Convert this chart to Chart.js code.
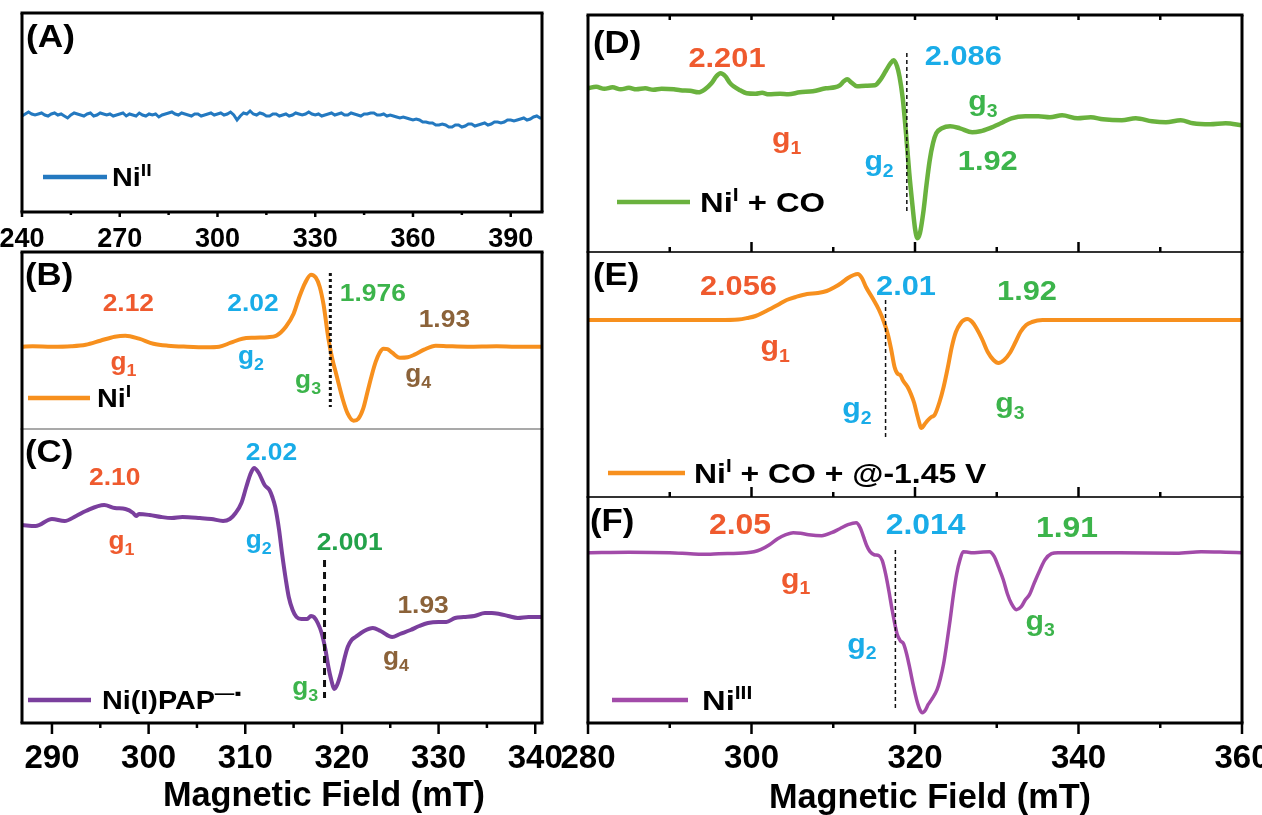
<!DOCTYPE html>
<html>
<head>
<meta charset="utf-8">
<script src="https://cdn.jsdelivr.net/npm/chart.js@4.4.0/dist/chart.umd.min.js"></script>
<style>
  body { margin: 0; background: #fff; }
  #wrap { position: relative; width: 1262px; height: 815px; }
  #wrap canvas { position: absolute; left: 0; top: 0; }
</style>
</head>
<body>
<div id="wrap"></div>
<script>
// EPR spectra, field in mT, intensity in arbitrary units (baseline = 0)

// (A) Ni(II) - noisy, sampled every 1 mT
const fieldA = [240,241,242,243,244,245,246,247,248,249,250,251,252,253,254,255,256,257,258,259,
  260,261,262,263,264,265,266,267,268,269,270,271,272,273,274,275,276,277,278,279,
  280,281,282,283,284,285,286,287,288,289,290,291,292,293,294,295,296,297,298,299,
  300,301,302,303,304,305,306,307,308,309,310,311,312,313,314,315,316,317,318,319,
  320,321,322,323,324,325,326,327,328,329,330,331,332,333,334,335,336,337,338,339,
  340,341,342,343,344,345,346,347,348,349,350,351,352,353,354,355,356,357,358,359,
  360,361,362,363,364,365,366,367,368,369,370,371,372,373,374,375,376,377,378,379,
  380,381,382,383,384,385,386,387,388,389,390,391,392,393,394,395,396,397,398,399,400];
const signalA = [-1,1,3,1,0,1,2,0,-1,1,2,0,1,-1,-3,0,2,1,0,-1,
  1,2,-1,0,2,1,0,1,-1,0,1,2,-1,1,0,-1,2,0,-1,1,
  0,1,-2,0,1,2,3,1,0,2,1,0,-1,1,1,-1,0,1,2,0,
  1,2,0,1,3,0,-5,-1,2,1,4,1,0,2,1,-1,-1,1,1,-1,
  0,1,-1,0,2,1,0,1,3,1,0,1,-1,0,1,2,0,1,2,0,
  0,2,1,0,-1,1,1,2,2,0,0,1,-1,0,-1,-2,-3,-2,-3,-4,
  -5,-4,-5,-7,-7,-8,-8,-10,-10,-9,-10,-12,-12,-10,-10,-12,-11,-9,-9,-11,
  -10,-9,-8,-10,-9,-7,-7,-8,-7,-5,-5,-6,-5,-4,-3,-5,-4,-2,-1,-3,-3];

// (B) Ni(I)
const fieldB = [286.9,288,290,292,293.5,295,296.5,297.6,299,300.5,302,304,306,307.3,308.5,309.7,311,312.3,313.2,314.2,
  315,315.6,316.2,316.8,317.3,317.7,318.1,318.6,319,319.4,320.1,320.6,321.2,321.7,322.2,322.7,323.1,323.5,323.9,324.3,
  324.7,325.2,326,326.8,327.5,328.5,329.7,331,333,336,338,340.7];
const signalB = [0,0.5,0,0.5,2,6,10,11,8,3,1,0,-0.5,0,4,8,9,9.5,11,20,
  33,50,64,72,69,60,42,8,-12,-27,-53,-67,-74,-72,-62,-43,-28,-15,-6,-2,
  -2.5,-6,-11,-10.5,-8,-3,1,0.5,0,0.5,0,0];

// (C) Ni(I)PAP radical anion
const fieldC = [286.9,288.3,290,291.3,292.5,293.5,295.4,296.5,297.6,298.4,298.7,299,300.1,301.3,302.4,303.5,305.3,306.5,307.7,308.4,
  309,309.6,310.1,310.5,310.9,311.4,312,312.5,312.8,313.1,313.5,313.8,314.2,314.5,314.9,315.3,315.8,316.4,316.8,317.1,
  317.5,317.9,318.3,318.6,318.9,319.2,319.5,319.9,320.3,320.6,321,321.4,322.3,323.2,324,325.2,326,327.1,328,328.9,
  330,330.8,331.7,332.6,333.7,334.8,335.5,336.3,337.2,338.2,339.3,340.7];
const signalC = [0,-1,6,4,9,14,20,17,16,12,9,11,10,8,7,8,7,6,4,6,
  12,22,38,50,57,52,40,35,28,18,-5,-28,-55,-72,-85,-92,-94,-94,-91,-92,
  -98,-108,-125,-142,-155,-164,-160,-148,-132,-122,-115,-112,-106,-103,-106,-112,-109,-105,-101,-98,
  -97,-97,-93,-92,-91,-88,-88,-89,-91,-93,-92,-92];

// (D) Ni(I) + CO
const fieldD = [280,281,282,283,284,285,285.9,287,288,289,290.5,291.3,292.5,293.5,294.3,295.1,295.7,296.2,296.8,297.3,
  297.8,298.6,299.4,300.5,301.3,302.1,303.5,304.5,305.9,307.5,309.1,310.2,310.8,311.3,311.7,312.2,312.9,314,315.1,315.8,
  316.4,317,317.4,317.8,318.1,318.5,318.9,319.3,319.7,320,320.3,320.6,321,321.4,321.8,322.2,322.6,323.3,324.3,325.5,
  327,328,329.1,330.5,331.8,333.5,335.1,336.5,338,339.9,341.5,343,345.3,347,349,350.7,352.5,354,356.1,358,360];
const signalD = [0,1.5,-0.5,1,-1,0.5,-1,0,-1.5,-0.5,-1,-2,-2.5,-4,-1,5,12,15,12,6,
  2,-2,-5,-5.5,-4.5,-6,-5.5,-6,-4,-3,0,1,3,7,9,6,2,2.5,3,9,
  17,25,28,22,12,-10,-45,-85,-118,-140,-150,-145,-125,-97,-72,-55,-45,-40,-38,-40,
  -44,-43,-40,-35,-30,-28,-28,-29,-27,-30,-29,-31,-32,-30,-33,-34,-32,-35,-36,-35,-37];

// (E) Ni(I) + CO + @-1.45 V
const fieldE = [280,290,296,298.4,299.5,300.5,301.8,303.2,304.3,305.4,306.8,308.1,309.2,310.2,311,311.8,312.5,313,313.5,314,
  314.8,315.6,316.2,316.7,317.1,317.5,317.9,318.2,318.5,319.1,319.5,319.9,320.3,320.8,321.2,321.6,322,322.4,323,323.5,
  324,324.5,325,325.6,326,326.4,327,327.5,328.2,328.9,329.6,330.2,330.9,331.6,332.3,332.9,333.6,334.3,335.6,340,
  350,360];
const signalE = [0,0,0,0.5,2,4,9,15,20,23,26,27,29,33,37,42,45,46,42,33,
  22,10,-2,-15,-30,-47,-54,-55,-60,-67,-74,-83,-96,-108,-104,-100,-97,-95,-82,-67,
  -48,-27,-12,-3,0,1,-2,-8,-19,-32,-40,-43,-40,-33,-22,-12,-5,-2,0,0,
  0,0];

// (F) Ni(III)
const fieldF = [280,285,290,292.5,294,296,299.4,300.3,301.1,302.2,303.2,304.2,305.1,306,307,308.6,309.8,310.8,311.8,312.8,
  313.3,313.7,314.1,314.5,315,315.6,316,316.4,316.8,317.2,317.8,318.2,318.6,319,319.4,319.8,320.2,320.6,320.9,321.3,
  321.6,322.1,322.7,323.1,323.5,323.9,324.3,324.7,325.1,325.5,325.9,326.5,327,328,329.1,329.7,330.2,330.8,331.3,331.8,
  332.4,333,333.5,334,334.6,335.3,335.9,336.7,337.5,345,352,355,358,360];
const signalF = [0,0.5,0,-1,-1.5,-1,0,1,3,8,14,18,20,19.5,18,17,20,24,28,30,
  25,16,7,1,-2,-3,-8,-21,-38,-57,-81,-88,-91,-102,-117,-133,-147,-157,-160,-157,
  -152,-146,-137,-126,-111,-90,-67,-42,-21,-7,1,0.5,0,0.5,1,-4,-14,-27,-41,-51,
  -57,-54,-47,-42,-30,-17,-7,-1,0,0,-0.5,1,0.5,0];

// axis ticks
const majorA = [240, 270, 300, 330, 360, 390];
const minorA = [255, 285, 315, 345, 375];
const majorC = [290, 300, 310, 320, 330, 340];
const minorC = [295, 305, 315, 325, 335];
const majorR = [280, 300, 320, 340, 360];
const minorR = [290, 310, 330, 350];
const innerR = [290, 300, 310, 320, 330, 340, 350];

const FONT = '"Liberation Sans", Arial, Helvetica, sans-serif';
const RED = '#ef5a2e', BLUE = '#19ace8', GREEN = '#3cb44b', BROWN = '#8b6239';
const W = 1262, H = 815;

// text made of runs: [text, ''|'sub'|'sup']
function rich(ctx, parts, x, y, size, color, align, sx) {
  sx = sx || 1;
  const small = Math.round(size * 0.66);
  const fontOf = s => 'bold ' + s + 'px ' + FONT;
  let w = 0;
  const ws = parts.map(([t, m]) => {
    ctx.font = fontOf(m ? small : size);
    const a = ctx.measureText(t).width;
    w += a;
    return a;
  });
  ctx.save();
  ctx.translate(x, y);
  ctx.scale(sx, 1);
  let cx = align === 'center' ? -w / 2 : 0;
  ctx.fillStyle = color;
  ctx.textBaseline = 'alphabetic';
  ctx.textAlign = 'left';
  parts.forEach(([t, m], i) => {
    ctx.font = fontOf(m ? small : size);
    const dy = m === 'sub' ? size * 0.24 : m === 'sup' ? -size * 0.4 : 0;
    ctx.fillText(t, cx, dy);
    cx += ws[i];
  });
  ctx.restore();
}

const num = (t, x, y, c, size, sx) => ({ t: [[t, '']], x, y, c, size, sx });
const gl = (n, x, y, c, size, sx) => ({ t: [['g', ''], [n, 'sub']], x, y, c, size, sx });

function line(ctx, x0, y0, x1, y1, w, color) {
  ctx.beginPath();
  ctx.lineWidth = w;
  ctx.strokeStyle = color;
  ctx.moveTo(x0, y0);
  ctx.lineTo(x1, y1);
  ctx.stroke();
}

function decor(p) {
  return {
    id: 'decor' + p.id,
    afterDatasetsDraw(chart) {
      const ctx = chart.ctx, a = chart.chartArea;
      const xs = chart.scales.x, ys = chart.scales.y;
      ctx.save();
      ctx.lineCap = 'butt';

      if (p.marker) {
        const m = p.marker, px = xs.getPixelForValue(m.x);
        ctx.setLineDash(m.dash);
        line(ctx, px, ys.getPixelForValue(m.y0), px, ys.getPixelForValue(m.y1), m.w, '#111');
        ctx.setLineDash([]);
      }

      (p.labels || []).forEach(l =>
        rich(ctx, l.t, xs.getPixelForValue(l.x), ys.getPixelForValue(l.y), l.size, l.c, 'center', l.sx));

      const lg = p.legend;
      line(ctx, lg.x0, lg.y, lg.x1, lg.y, 4.5, p.color);
      rich(ctx, lg.parts, lg.tx, lg.base, lg.size, '#000', 'left', lg.sx);

      rich(ctx, [[p.letter.t, '']], p.letter.x, p.letter.base, p.letter.size, '#000', 'left', p.letter.sx);

      const b = p.border;
      if (b.top) line(ctx, a.left - 1.5, a.top, a.right + 1.5, a.top, b.top[0], b.top[1]);
      if (b.bottom) line(ctx, a.left - 1.5, a.bottom, a.right + 1.5, a.bottom, b.bottom[0], b.bottom[1]);
      if (b.left) line(ctx, a.left, a.top, a.left, a.bottom, b.left[0], b.left[1]);
      if (b.right) line(ctx, a.right, a.top, a.right, a.bottom, b.right[0], b.right[1]);

      (p.ticks || []).forEach(t => {
        const y0 = t.side === 'top' ? a.top : a.bottom;
        const sgn = (t.side === 'bottom') === (t.dir === 'out') ? 1 : -1;
        t.at.forEach(v => {
          const px = xs.getPixelForValue(v);
          line(ctx, px, y0, px, y0 + sgn * t.len, 2.5, '#000');
          if (t.label) rich(ctx, [[String(v), '']], px, t.label.base, t.label.size, '#000', 'center', t.label.sx);
        });
      });

      if (p.title) rich(ctx, [[p.title.t, '']], p.title.x, p.title.base, p.title.size, '#000', 'center', p.title.sx);
      ctx.restore();
    }
  };
}

const K = [3, '#000'];
const panels = [
  {
    id: 'A', box: [22, 13, 542, 212], xr: [240, 399.6], yr: [-97, 102],
    x: fieldA, y: signalA, color: '#2479c0', lw: 3, tension: 0,
    border: { top: K, bottom: K, left: K, right: K },
    ticks: [
      { side: 'bottom', dir: 'out', at: majorA, len: 5, label: { size: 27, base: 247 } },
      { side: 'bottom', dir: 'out', at: minorA, len: 3 }
    ],
    letter: { t: '(A)', x: 26, base: 47, size: 32, sx: 1.1 },
    legend: { x0: 43, x1: 107, y: 177, tx: 112, base: 186, size: 25, sx: 1.15, parts: [['Ni', ''], ['II', 'sup']] }
  },
  {
    id: 'B', box: [22, 252, 542, 429], xr: [286.9, 340.7], yr: [-82.3, 94.7],
    x: fieldB, y: signalB, color: '#f7901e', lw: 4,
    border: { top: K, bottom: [1.2, '#555'], left: K, right: K },
    marker: { x: 318.8, y0: 73.7, y1: -60.3, w: 3, dash: [3, 3] },
    labels: [
      num('2.12', 297.9, 36, RED, 24, 1.1), gl('1', 297.4, -23, RED, 25, 1.05),
      num('2.02', 310.8, 36, BLUE, 24, 1.1), gl('2', 310.6, -17, BLUE, 25, 1.05),
      num('1.976', 323.2, 46, GREEN, 24, 1.1), gl('3', 316.5, -41, GREEN, 25, 1.05),
      num('1.93', 330.6, 20, BROWN, 24, 1.1), gl('4', 327.9, -35, BROWN, 25, 1.05)
    ],
    letter: { t: '(B)', x: 25, base: 285, size: 31, sx: 1.12 },
    legend: { x0: 28, x1: 90, y: 398, tx: 97, base: 407, size: 25, sx: 1.15, parts: [['Ni', ''], ['I', 'sup']] }
  },
  {
    id: 'C', box: [22, 429, 542, 723], xr: [286.9, 340.7], yr: [-198, 96],
    x: fieldC, y: signalC, color: '#7a3f9d', lw: 4,
    border: { bottom: K, left: K, right: K },
    marker: { x: 318.2, y0: -35, y1: -173, w: 3, dash: [7, 5] },
    labels: [
      num('2.10', 296.5, 40, RED, 24, 1.1), gl('1', 297.2, -24, RED, 25, 1.05),
      num('2.02', 312.7, 65, BLUE, 24, 1.1), gl('2', 311.4, -23, BLUE, 25, 1.05),
      num('2.001', 320.8, -25, '#23a24a', 24, 1.1), gl('3', 316.2, -170, GREEN, 25, 1.05),
      num('1.93', 328.4, -88, BROWN, 24, 1.1), gl('4', 325.6, -140, BROWN, 25, 1.05)
    ],
    ticks: [
      { side: 'bottom', dir: 'out', at: majorC, len: 11, label: { size: 33, base: 768 } },
      { side: 'bottom', dir: 'out', at: minorC, len: 5 }
    ],
    title: { t: 'Magnetic Field (mT)', x: 324, base: 806, size: 35, sx: 0.98 },
    letter: { t: '(C)', x: 25, base: 462, size: 31, sx: 1.12 },
    legend: { x0: 28, x1: 91, y: 700, tx: 102, base: 709, size: 25, sx: 1.15, parts: [['Ni(I)PAP', ''], ['—▪', 'sup']] }
  },
  {
    id: 'D', box: [588, 15, 1242, 252], xr: [280, 360], yr: [-163.7, 73.3],
    x: fieldD, y: signalD, color: '#6ab23e', lw: 4.5,
    border: { top: K, bottom: [2, '#333'], left: K, right: K },
    marker: { x: 319, y0: 35.3, y1: -124.7, w: 1.5, dash: [4, 3] },
    labels: [
      num('2.201', 297, 21, RED, 28, 1.1), gl('1', 304.3, -59, RED, 28, 1.08),
      num('2.086', 325.9, 23, BLUE, 28, 1.1), gl('2', 315.6, -82, BLUE, 28, 1.08),
      gl('3', 328.3, -22, GREEN, 28, 1.08), num('1.92', 328.9, -82, GREEN, 28, 1.1)
    ],
    ticks: [
      { side: 'top', dir: 'in', at: innerR, len: 5 },
      { side: 'bottom', dir: 'in', at: [300, 320, 340], len: 10 },
      { side: 'bottom', dir: 'in', at: minorR, len: 5 }
    ],
    letter: { t: '(D)', x: 593, base: 53, size: 31, sx: 1.12 },
    legend: { x0: 617, x1: 690, y: 202, tx: 700, base: 212, size: 28, sx: 1.17, parts: [['Ni', ''], ['I', 'sup'], [' + CO', '']] }
  },
  {
    id: 'E', box: [588, 252, 1242, 497], xr: [280, 360], yr: [-177, 68],
    x: fieldE, y: signalE, color: '#f7901e', lw: 4,
    border: { bottom: [2, '#333'], left: K, right: K },
    marker: { x: 316.4, y0: 20, y1: -118, w: 1.5, dash: [4, 3] },
    labels: [
      num('2.056', 298.4, 25, RED, 28, 1.1), gl('1', 302.9, -35, RED, 28, 1.08),
      num('2.01', 318.9, 25, BLUE, 28, 1.1), gl('2', 312.9, -97, BLUE, 28, 1.08),
      num('1.92', 333.7, 20, GREEN, 28, 1.1), gl('3', 331.6, -92, GREEN, 28, 1.08)
    ],
    ticks: [
      { side: 'bottom', dir: 'in', at: [300, 320, 340], len: 10 },
      { side: 'bottom', dir: 'in', at: minorR, len: 5 }
    ],
    letter: { t: '(E)', x: 593, base: 285, size: 31, sx: 1.12 },
    legend: { x0: 608, x1: 685, y: 473, tx: 694, base: 483, size: 28, sx: 1.14, parts: [['Ni', ''], ['I', 'sup'], [' + CO + @-1.45 V', '']] }
  },
  {
    id: 'F', box: [588, 497, 1242, 723], xr: [280, 360], yr: [-170.3, 55.7],
    x: fieldF, y: signalF, color: '#a24ba9', lw: 3.5,
    border: { bottom: K, left: K, right: K },
    marker: { x: 317.6, y0: 2.7, y1: -157.3, w: 1.5, dash: [4, 3] },
    labels: [
      num('2.05', 298.6, 19, RED, 29, 1.1), gl('1', 305.4, -35, RED, 28, 1.08),
      num('2.014', 321.3, 19, BLUE, 29, 1.1), gl('2', 313.5, -100, BLUE, 28, 1.08),
      num('1.91', 338.6, 16, GREEN, 29, 1.1), gl('3', 335.3, -77, GREEN, 28, 1.08)
    ],
    ticks: [
      { side: 'bottom', dir: 'out', at: majorR, len: 11, label: { size: 33, base: 768 } },
      { side: 'bottom', dir: 'out', at: minorR, len: 5 }
    ],
    title: { t: 'Magnetic Field (mT)', x: 930, base: 808, size: 35, sx: 0.98 },
    letter: { t: '(F)', x: 590, base: 531, size: 31, sx: 1.12 },
    legend: { x0: 612, x1: 688, y: 700, tx: 702, base: 710, size: 28, sx: 1.17, parts: [['Ni', ''], ['III', 'sup']] }
  }
];

const wrap = document.getElementById('wrap');
panels.forEach(p => {
  const cv = document.createElement('canvas');
  cv.width = W;
  cv.height = H;
  wrap.appendChild(cv);
  const ds = {
    data: p.x.map((v, i) => ({ x: v, y: p.y[i] })),
    borderColor: p.color,
    borderWidth: p.lw,
    pointRadius: 0,
    fill: false
  };
  if (p.tension === 0) ds.tension = 0;
  else ds.cubicInterpolationMode = 'monotone';
  new Chart(cv, {
    type: 'line',
    data: { datasets: [ds] },
    options: {
      responsive: false,
      animation: false,
      devicePixelRatio: 1,
      events: [],
      layout: { padding: { left: p.box[0], top: p.box[1], right: W - p.box[2], bottom: H - p.box[3] } },
      scales: {
        x: { type: 'linear', display: false, min: p.xr[0], max: p.xr[1] },
        y: { type: 'linear', display: false, min: p.yr[0], max: p.yr[1] }
      },
      plugins: { legend: { display: false }, tooltip: { enabled: false } }
    },
    plugins: [decor(p)]
  });
});
</script>
</body>
</html>
